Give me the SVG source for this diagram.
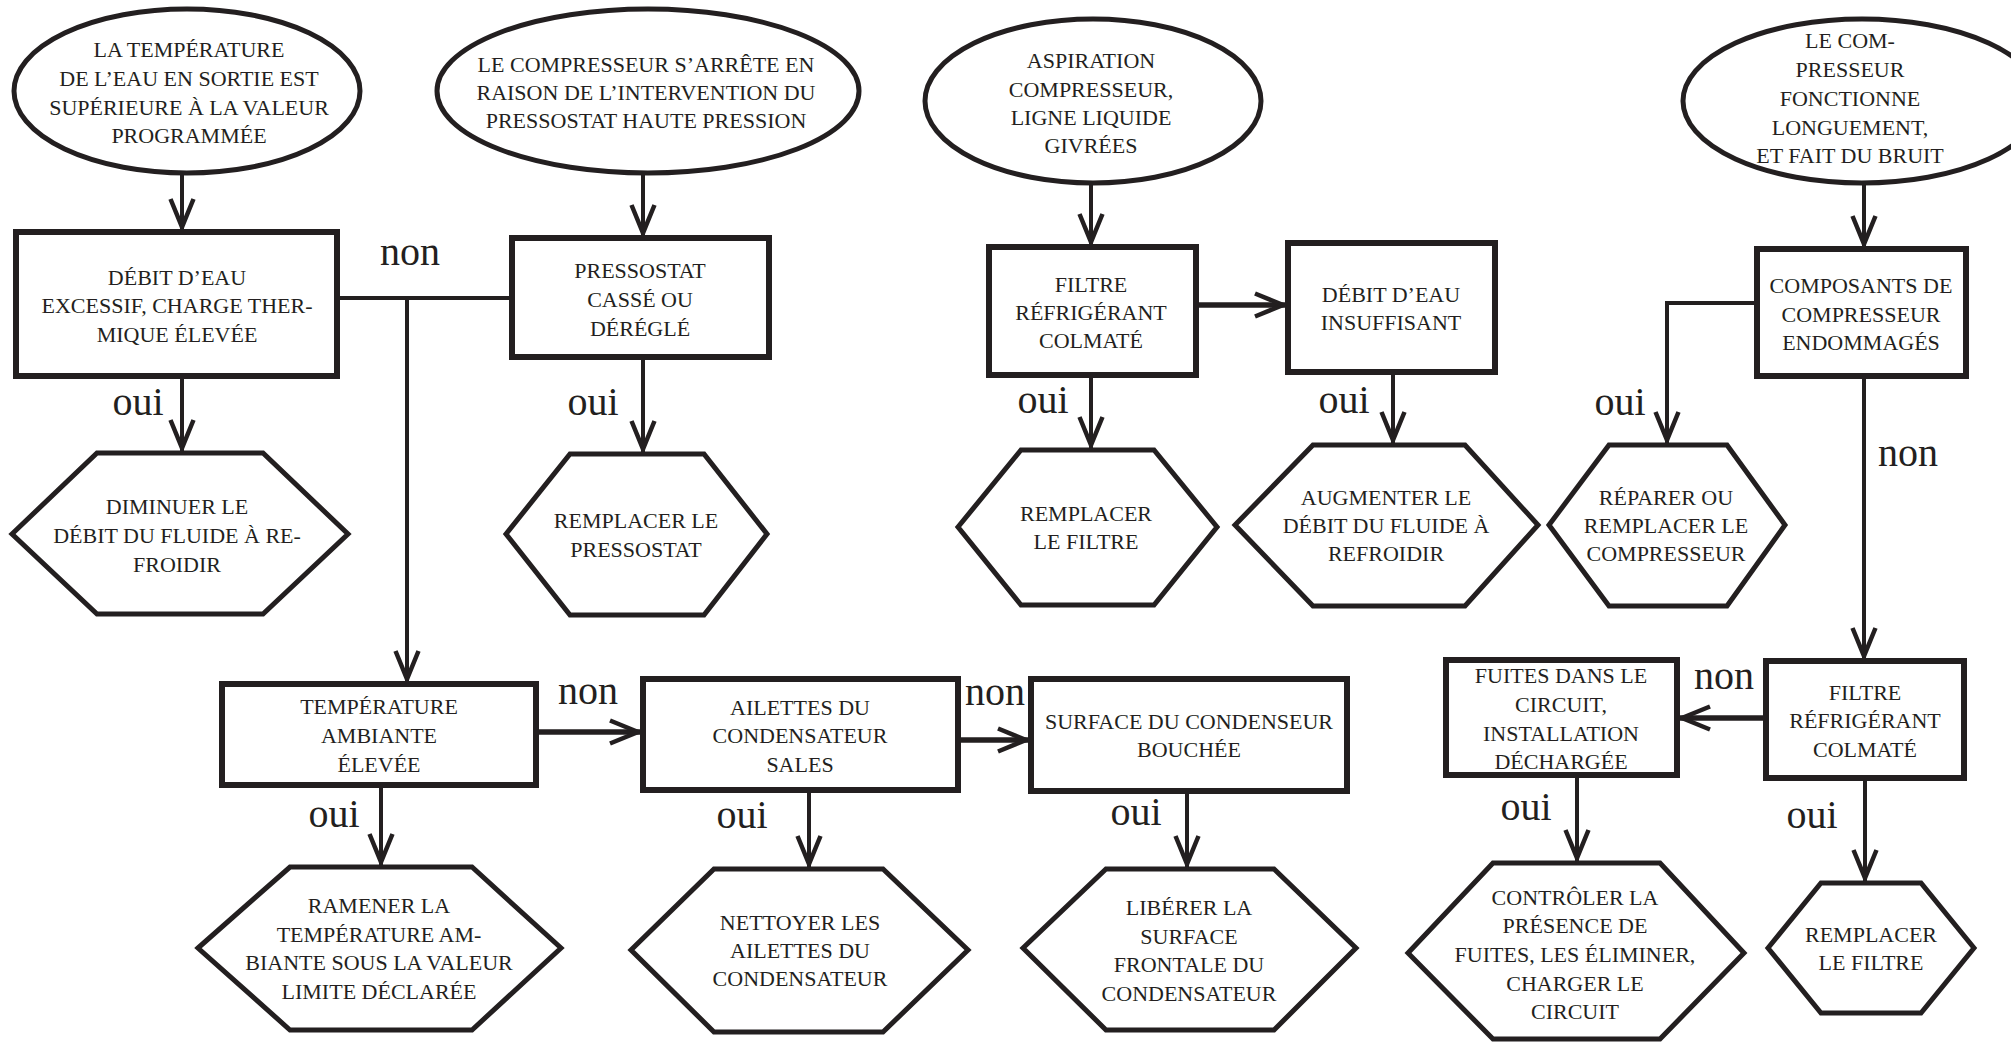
<svg xmlns="http://www.w3.org/2000/svg" width="2011" height="1043" viewBox="0 0 2011 1043">
<style>
.s{fill:#fff;stroke:#231f20;stroke-width:5}
rect.s{stroke-width:6}
.t{font-family:'Liberation Serif','Times New Roman',serif;font-size:22px;fill:#231f20;text-anchor:middle}
.l{font-family:'Liberation Serif','Times New Roman',serif;font-size:40px;fill:#231f20;text-anchor:middle}
.c{fill:none;stroke:#231f20;stroke-width:4}
.ca{fill:none;stroke:#231f20;stroke-width:4;marker-end:url(#arr)}
.cb{fill:none;stroke:#231f20;stroke-width:5.5;marker-end:url(#arr)}
</style>
<defs>
<marker id="arr" markerUnits="userSpaceOnUse" markerWidth="44" markerHeight="34" viewBox="-38 -17 44 34" refX="0" refY="0" orient="auto" overflow="visible">
<path d="M-33,-11.5 L-5,0 L-33,11.5" fill="none" stroke="#231f20" stroke-width="4.5"/>
</marker>
</defs>
<rect width="2011" height="1043" fill="#fff"/>
<g id="connectors">
<path class="ca" d="M182,173 V232"/>
<path class="ca" d="M643,173 V238"/>
<path class="c" d="M338,298 H511"/>
<path class="ca" d="M407,298 V684"/>
<path class="ca" d="M182,376 V453"/>
<path class="ca" d="M643,357 V454"/>
<path class="ca" d="M1091,183 V247"/>
<path class="cb" d="M1196,305 H1288"/>
<path class="ca" d="M1091,375 V450"/>
<path class="ca" d="M1393,372 V445"/>
<path class="ca" d="M1864,183 V249"/>
<path class="ca" d="M1757,303 H1667 V445"/>
<path class="ca" d="M1864,376 V661"/>
<path class="cb" d="M1766,718 H1677"/>
<path class="ca" d="M1577,775 V863"/>
<path class="ca" d="M1865,778 V883"/>
<path class="cb" d="M536,732 H643"/>
<path class="ca" d="M381,785 V867"/>
<path class="cb" d="M958,740 H1031"/>
<path class="ca" d="M809,790 V869"/>
<path class="ca" d="M1187,791 V869"/>
<text class="l" x="410" y="265">non</text>
<text class="l" x="138" y="415">oui</text>
<text class="l" x="593" y="415">oui</text>
<text class="l" x="1043" y="413">oui</text>
<text class="l" x="1344" y="413">oui</text>
<text class="l" x="1620" y="415">oui</text>
<text class="l" x="1908" y="466">non</text>
<text class="l" x="588" y="704">non</text>
<text class="l" x="995" y="705">non</text>
<text class="l" x="334" y="827">oui</text>
<text class="l" x="742" y="828">oui</text>
<text class="l" x="1136" y="825">oui</text>
<text class="l" x="1724" y="689">non</text>
<text class="l" x="1526" y="820">oui</text>
<text class="l" x="1812" y="828">oui</text>
</g>
<g id="e1">
<ellipse class="s" cx="187" cy="91" rx="173" ry="82"/>
<text class="t"><tspan x="189" y="57">LA TEMPÉRATURE</tspan><tspan x="189" y="86">DE L’EAU EN SORTIE EST</tspan><tspan x="189" y="115">SUPÉRIEURE À LA VALEUR</tspan><tspan x="189" y="143">PROGRAMMÉE</tspan></text>
</g>
<g id="e2">
<ellipse class="s" cx="648" cy="91" rx="211" ry="82"/>
<text class="t"><tspan x="646" y="72">LE COMPRESSEUR S’ARRÊTE EN</tspan><tspan x="646" y="100">RAISON DE L’INTERVENTION DU</tspan><tspan x="646" y="128">PRESSOSTAT HAUTE PRESSION</tspan></text>
</g>
<g id="e3">
<ellipse class="s" cx="1093" cy="101" rx="168" ry="82"/>
<text class="t"><tspan x="1091" y="68">ASPIRATION</tspan><tspan x="1091" y="97">COMPRESSEUR,</tspan><tspan x="1091" y="125">LIGNE LIQUIDE</tspan><tspan x="1091" y="153">GIVRÉES</tspan></text>
</g>
<g id="e4">
<ellipse class="s" cx="1862" cy="101" rx="179" ry="82"/>
<text class="t"><tspan x="1850" y="48">LE COM-</tspan><tspan x="1850" y="77">PRESSEUR</tspan><tspan x="1850" y="106">FONCTIONNE</tspan><tspan x="1850" y="135">LONGUEMENT,</tspan><tspan x="1850" y="163">ET FAIT DU BRUIT</tspan></text>
</g>
<g id="r1">
<rect class="s" x="16" y="232" width="321" height="144"/>
<text class="t"><tspan x="177" y="285">DÉBIT D’EAU</tspan><tspan x="177" y="313">EXCESSIF, CHARGE THER-</tspan><tspan x="177" y="342">MIQUE ÉLEVÉE</tspan></text>
</g>
<g id="r2">
<rect class="s" x="512" y="238" width="257" height="119"/>
<text class="t"><tspan x="640" y="278">PRESSOSTAT</tspan><tspan x="640" y="307">CASSÉ OU</tspan><tspan x="640" y="336">DÉRÉGLÉ</tspan></text>
</g>
<g id="r3">
<rect class="s" x="989" y="247" width="207" height="128"/>
<text class="t"><tspan x="1091" y="292">FILTRE</tspan><tspan x="1091" y="320">RÉFRIGÉRANT</tspan><tspan x="1091" y="348">COLMATÉ</tspan></text>
</g>
<g id="r4">
<rect class="s" x="1288" y="243" width="207" height="129"/>
<text class="t"><tspan x="1391" y="302">DÉBIT D’EAU</tspan><tspan x="1391" y="330">INSUFFISANT</tspan></text>
</g>
<g id="r5">
<rect class="s" x="1757" y="249" width="209" height="127"/>
<text class="t"><tspan x="1861" y="293">COMPOSANTS DE</tspan><tspan x="1861" y="322">COMPRESSEUR</tspan><tspan x="1861" y="350">ENDOMMAGÉS</tspan></text>
</g>
<g id="h1">
<polygon class="s" points="12,534 97,453 263,453 348,534 263,614 97,614"/>
<text class="t"><tspan x="177" y="514">DIMINUER LE</tspan><tspan x="177" y="543">DÉBIT DU FLUIDE À RE-</tspan><tspan x="177" y="572">FROIDIR</tspan></text>
</g>
<g id="h2">
<polygon class="s" points="506,534 570,454 704,454 767,534 704,615 570,615"/>
<text class="t"><tspan x="636" y="528">REMPLACER LE</tspan><tspan x="636" y="557">PRESSOSTAT</tspan></text>
</g>
<g id="h3">
<polygon class="s" points="958,527 1021,450 1154,450 1217,527 1154,605 1021,605"/>
<text class="t"><tspan x="1086" y="521">REMPLACER</tspan><tspan x="1086" y="549">LE FILTRE</tspan></text>
</g>
<g id="h4">
<polygon class="s" points="1235,525 1313,445 1465,445 1538,525 1465,606 1313,606"/>
<text class="t"><tspan x="1386" y="505">AUGMENTER LE</tspan><tspan x="1386" y="533">DÉBIT DU FLUIDE À</tspan><tspan x="1386" y="561">REFROIDIR</tspan></text>
</g>
<g id="h5">
<polygon class="s" points="1549,525 1609,445 1727,445 1785,525 1727,606 1609,606"/>
<text class="t"><tspan x="1666" y="505">RÉPARER OU</tspan><tspan x="1666" y="533">REMPLACER LE</tspan><tspan x="1666" y="561">COMPRESSEUR</tspan></text>
</g>
<g id="r6">
<rect class="s" x="222" y="684" width="314" height="101"/>
<text class="t"><tspan x="379" y="714">TEMPÉRATURE</tspan><tspan x="379" y="743">AMBIANTE</tspan><tspan x="379" y="772">ÉLEVÉE</tspan></text>
</g>
<g id="r7">
<rect class="s" x="643" y="679" width="315" height="111"/>
<text class="t"><tspan x="800" y="715">AILETTES DU</tspan><tspan x="800" y="743">CONDENSATEUR</tspan><tspan x="800" y="772">SALES</tspan></text>
</g>
<g id="r8">
<rect class="s" x="1031" y="679" width="316" height="112"/>
<text class="t"><tspan x="1189" y="729">SURFACE DU CONDENSEUR</tspan><tspan x="1189" y="757">BOUCHÉE</tspan></text>
</g>
<g id="r9">
<rect class="s" x="1446" y="660" width="231" height="115"/>
<text class="t"><tspan x="1561" y="683">FUITES DANS LE</tspan><tspan x="1561" y="712">CIRCUIT,</tspan><tspan x="1561" y="741">INSTALLATION</tspan><tspan x="1561" y="769">DÉCHARGÉE</tspan></text>
</g>
<g id="r10">
<rect class="s" x="1766" y="661" width="198" height="117"/>
<text class="t"><tspan x="1865" y="700">FILTRE</tspan><tspan x="1865" y="728">RÉFRIGÉRANT</tspan><tspan x="1865" y="757">COLMATÉ</tspan></text>
</g>
<g id="h6">
<polygon class="s" points="198,948 290,867 472,867 561,948 472,1030 290,1030"/>
<text class="t"><tspan x="379" y="913">RAMENER LA</tspan><tspan x="379" y="942">TEMPÉRATURE AM-</tspan><tspan x="379" y="970">BIANTE SOUS LA VALEUR</tspan><tspan x="379" y="999">LIMITE DÉCLARÉE</tspan></text>
</g>
<g id="h7">
<polygon class="s" points="631,950 714,869 883,869 968,950 883,1032 714,1032"/>
<text class="t"><tspan x="800" y="930">NETTOYER LES</tspan><tspan x="800" y="958">AILETTES DU</tspan><tspan x="800" y="986">CONDENSATEUR</tspan></text>
</g>
<g id="h8">
<polygon class="s" points="1023,948 1106,869 1274,869 1356,948 1274,1030 1106,1030"/>
<text class="t"><tspan x="1189" y="915">LIBÉRER LA</tspan><tspan x="1189" y="944">SURFACE</tspan><tspan x="1189" y="972">FRONTALE DU</tspan><tspan x="1189" y="1001">CONDENSATEUR</tspan></text>
</g>
<g id="h9">
<polygon class="s" points="1408,953 1493,863 1660,863 1744,953 1660,1039 1493,1039"/>
<text class="t"><tspan x="1575" y="905">CONTRÔLER LA</tspan><tspan x="1575" y="933">PRÉSENCE DE</tspan><tspan x="1575" y="962">FUITES, LES ÉLIMINER,</tspan><tspan x="1575" y="991">CHARGER LE</tspan><tspan x="1575" y="1019">CIRCUIT</tspan></text>
</g>
<g id="h10">
<polygon class="s" points="1768,948 1821,883 1921,883 1974,948 1921,1013 1821,1013"/>
<text class="t"><tspan x="1871" y="942">REMPLACER</tspan><tspan x="1871" y="970">LE FILTRE</tspan></text>
</g>
</svg>
